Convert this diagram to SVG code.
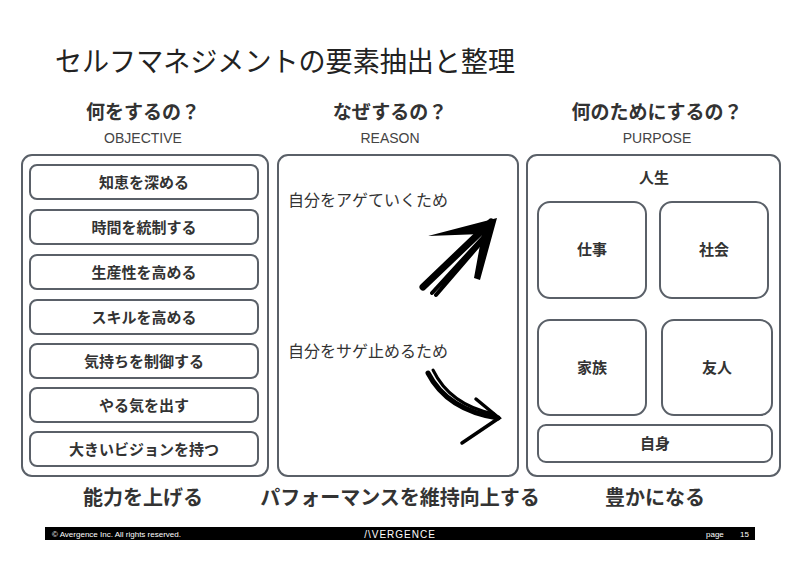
<svg xmlns="http://www.w3.org/2000/svg" width="800" height="566" viewBox="0 0 800 566">
<style>
text{font-family:"Noto Sans CJK JP","Noto Sans",sans-serif;fill:#222}
.panel{fill:#fff;stroke:#5a6068;stroke-width:2}
.item{fill:#fff;stroke:#5a6068;stroke-width:2}
.it{font-size:15px;font-weight:bold;text-anchor:middle;fill:#333}
.h{font-size:19px;font-weight:bold;text-anchor:middle;fill:#333}
.sub{font-size:14px;text-anchor:middle;fill:#444;font-family:"Liberation Sans",sans-serif}
.b{font-size:20px;font-weight:bold;text-anchor:middle;fill:#333}
.r{font-size:16px;fill:#333}
.ar{fill:none;stroke:#000;stroke-linecap:round}
</style>
<rect width="800" height="566" fill="#fff"/>
<text x="55" y="72" font-size="28" fill="#111" textLength="460" lengthAdjust="spacingAndGlyphs">セルフマネジメントの要素抽出と整理</text>
<g id="headers">
<text class="h" x="143" y="119">何をするの？</text><text class="sub" x="143" y="143">OBJECTIVE</text>
<text class="h" x="390" y="119">なぜするの？</text><text class="sub" x="390" y="143">REASON</text>
<text class="h" x="657" y="119">何のためにするの？</text><text class="sub" x="657" y="143">PURPOSE</text>
</g>
<g id="objective">
<rect class="panel" x="22" y="155" width="246" height="321" rx="10"/>
<rect class="item" x="30" y="165" width="228" height="34" rx="7"/><text class="it" x="144" y="188">知恵を深める</text>
<rect class="item" x="30" y="210" width="228" height="34" rx="7"/><text class="it" x="144" y="233">時間を統制する</text>
<rect class="item" x="30" y="255" width="228" height="34" rx="7"/><text class="it" x="144" y="278">生産性を高める</text>
<rect class="item" x="30" y="300" width="228" height="34" rx="7"/><text class="it" x="144" y="323">スキルを高める</text>
<rect class="item" x="30" y="344" width="228" height="34" rx="7"/><text class="it" x="144" y="367">気持ちを制御する</text>
<rect class="item" x="30" y="388" width="228" height="34" rx="7"/><text class="it" x="144" y="411">やる気を出す</text>
<rect class="item" x="30" y="432" width="228" height="34" rx="7"/><text class="it" x="144" y="455">大きいビジョンを持つ</text>
</g>
<g id="reason">
<rect class="panel" x="278" y="155" width="240" height="321" rx="10"/>
<text class="r" x="288" y="206">自分をアゲていくため</text>
<text class="r" x="288" y="357">自分をサゲ止めるため</text>
</g>
<g id="connectors">
<path class="ar" stroke-width="7" d="M423 287 L491 222"/>
<path class="ar" stroke-width="4" d="M432 293 L488 232 M436 295 L485 238"/>
<path fill="#000" d="M428 236 L497 218 L480 280 L474 278 L482 234 Z"/>
<path class="ar" stroke-width="5" d="M428 373 Q447 410 498 418"/>
<path class="ar" stroke-width="3" d="M433 370 Q450 405 494 414"/>
<path class="ar" stroke-width="3.5" d="M476 399 L499 418 L462 443"/>
</g>
<g id="purpose">
<rect class="panel" x="527" y="155" width="253" height="321" rx="10"/>
<text class="it" x="654" y="183" font-size="16">人生</text>
<rect class="item" x="538" y="202" width="108" height="96" rx="12"/><text class="it" x="592" y="255">仕事</text>
<rect class="item" x="660" y="202" width="108" height="96" rx="12"/><text class="it" x="714" y="255">社会</text>
<rect class="item" x="538" y="320" width="108" height="95" rx="12"/><text class="it" x="592" y="373">家族</text>
<rect class="item" x="662" y="320" width="110" height="95" rx="12"/><text class="it" x="717" y="373">友人</text>
<rect class="item" x="538" y="425" width="234" height="37" rx="8"/><text class="it" x="655" y="449">自身</text>
</g>
<g id="bottom">
<text class="b" x="143" y="505">能力を上げる</text>
<text class="b" x="400" y="505">パフォーマンスを維持向上する</text>
<text class="b" x="655" y="505">豊かになる</text>
</g>
<g id="footer">
<rect x="45" y="527" width="710" height="13" fill="#000"/>
<text x="52" y="537" font-size="8" style="fill:#fff;font-family:'Liberation Sans',sans-serif">© Avergence Inc. All rights reserved.</text>
<text x="400" y="538" font-size="10" text-anchor="middle" style="fill:#fff;font-family:'Liberation Sans',sans-serif;letter-spacing:1px">/\VERGENCE</text>
<text x="706" y="537" font-size="8" style="fill:#fff;font-family:'Liberation Sans',sans-serif">page</text>
<text x="740" y="537" font-size="8" style="fill:#fff;font-family:'Liberation Sans',sans-serif">15</text>
</g>
</svg>
